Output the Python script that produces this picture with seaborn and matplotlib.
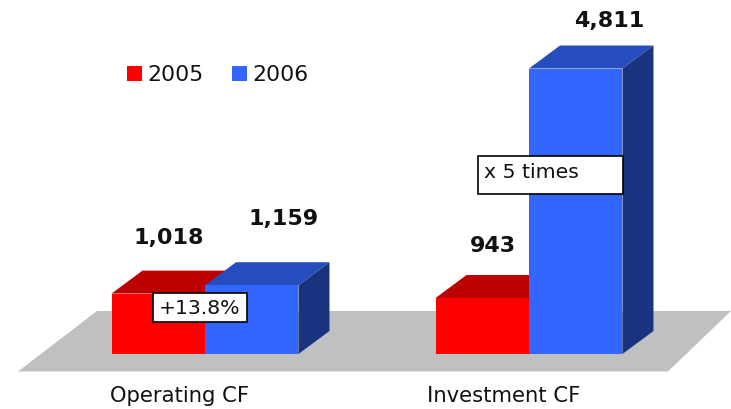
import matplotlib
matplotlib.use("Agg")
import matplotlib.pyplot as plt
from matplotlib.patches import Polygon, Rectangle
from matplotlib.transforms import Affine2D, ScaledTranslation
import pandas as pd
import seaborn as sns

# values
categories = ["Operating CF", "Investment CF"]
years = ["2005", "2006"]
values_2005 = [1018, 943]
values_2006 = [1159, 4811]
value_labels_2005 = ["1,018", "943"]
value_labels_2006 = ["1,159", "4,811"]

# pixel layout of the reference
W, H = 731, 409
base_y = 354
px_per_unit = 0.05934
group_gap = 324
first_group = 205
depth_x, depth_y = 31, 23
colors = {"2005": "#FF0000", "2006": "#3366FF"}
top_colors = {"2005": "#BD0000", "2006": "#264DBD"}
side_colors = {"2005": "#7F0000", "2006": "#1A337F"}

df = pd.DataFrame({
    "category": categories * 2,
    "year": [years[0]] * 2 + [years[1]] * 2,
    "value": values_2005 + values_2006,
})

sns.set_theme(style="white")
plt.rcParams["font.family"] = ["DejaVu Sans"]

fig = plt.figure(figsize=(W / 100, H / 100), dpi=100)
ax = fig.add_axes([0, (H - base_y) / H, 1, base_y / H])
sns.barplot(data=df, x="category", y="value", hue="year", palette=colors,
            width=0.577, gap=0, saturation=1, errorbar=None, linewidth=0, ax=ax)
ax.set_xlim(-first_group / group_gap, (W - first_group) / group_gap)
ax.set_ylim(0, base_y / px_per_unit)
ax.set_xlabel("")
ax.set_ylabel("")
ax.set_yticks([])
sns.despine(ax=ax, left=True, bottom=True)
ax.tick_params(axis="x", length=0, pad=23, labelsize=15.2, labelcolor="#111111")

# category labels sit left of the group centre
shift = ScaledTranslation(-25 / 100, 0, fig.dpi_scale_trans)
for lab in ax.get_xticklabels():
    lab.set_transform(lab.get_transform() + shift)

# transform for things placed in reference pixels
px = Affine2D().scale(1, -1).translate(0, H)

# grey floor
ax.add_patch(Polygon([(18, 371.5), (97, 311), (731, 311), (668, 371.5)], closed=True,
                     transform=px, facecolor="#C0C0C0", edgecolor="none",
                     clip_on=False, zorder=1))

# 3d faces come from the bars themselves
dx = depth_x / group_gap
dy = depth_y / px_per_unit
for i, (year, bars) in enumerate(zip(years, ax.containers)):
    for bar in bars:
        bar.set_zorder(3 + 2 * i)
        x0, x1 = bar.get_x(), bar.get_x() + bar.get_width()
        h = bar.get_height()
        ax.add_patch(Polygon([(x0, h), (x0 + dx, h + dy), (x1 + dx, h + dy), (x1, h)],
                             closed=True, facecolor=top_colors[year], edgecolor="none",
                             zorder=2 + 2 * i))
        ax.add_patch(Polygon([(x1, 0), (x1 + dx, dy), (x1 + dx, h + dy), (x1, h)],
                             closed=True, facecolor=side_colors[year], edgecolor="none",
                             zorder=2 + 2 * i))

# value labels, nudged by hand from the top of each bar
nudges_2005 = [(10, 56), (11, 52)]
nudges_2006 = [(32, 66), (33, 48)]
for bars, labels, nudges in [(ax.containers[0], value_labels_2005, nudges_2005),
                             (ax.containers[1], value_labels_2006, nudges_2006)]:
    for bar, label, (nx, ny) in zip(bars, labels, nudges):
        ax.annotate(label, (bar.get_x() + bar.get_width() / 2, bar.get_height()),
                    xytext=(nx * 0.72, ny * 0.72), textcoords="offset points",
                    ha="center", va="center", fontsize=16, fontweight="bold",
                    color="#111111", zorder=10)

# call-out boxes
for text, (bx, by, bw, bh), tx, ty, ha in [("+13.8%", (153, 293, 94, 29), 200, 309, "center"),
                                           ("x 5 times", (478, 156, 144.5, 38), 484, 172, "left")]:
    ax.add_patch(Rectangle((bx, by), bw, bh, transform=px, facecolor="white",
                           edgecolor="black", linewidth=1.2, clip_on=False, zorder=11))
    ax.text(tx, ty, text, transform=px, ha=ha, va="center", fontsize=14.7,
            color="#111111", zorder=12)

leg = ax.legend(loc="upper left", bbox_to_anchor=(127 / W, 1 - 65 / base_y), ncols=2,
                frameon=False, fontsize=15.8, handlelength=0.68, handleheight=0.68,
                handletextpad=0.25, columnspacing=1.3, borderpad=0, borderaxespad=0,
                labelcolor="#111111")
leg.set_title(None)

fig.savefig("out.png", dpi=100)
